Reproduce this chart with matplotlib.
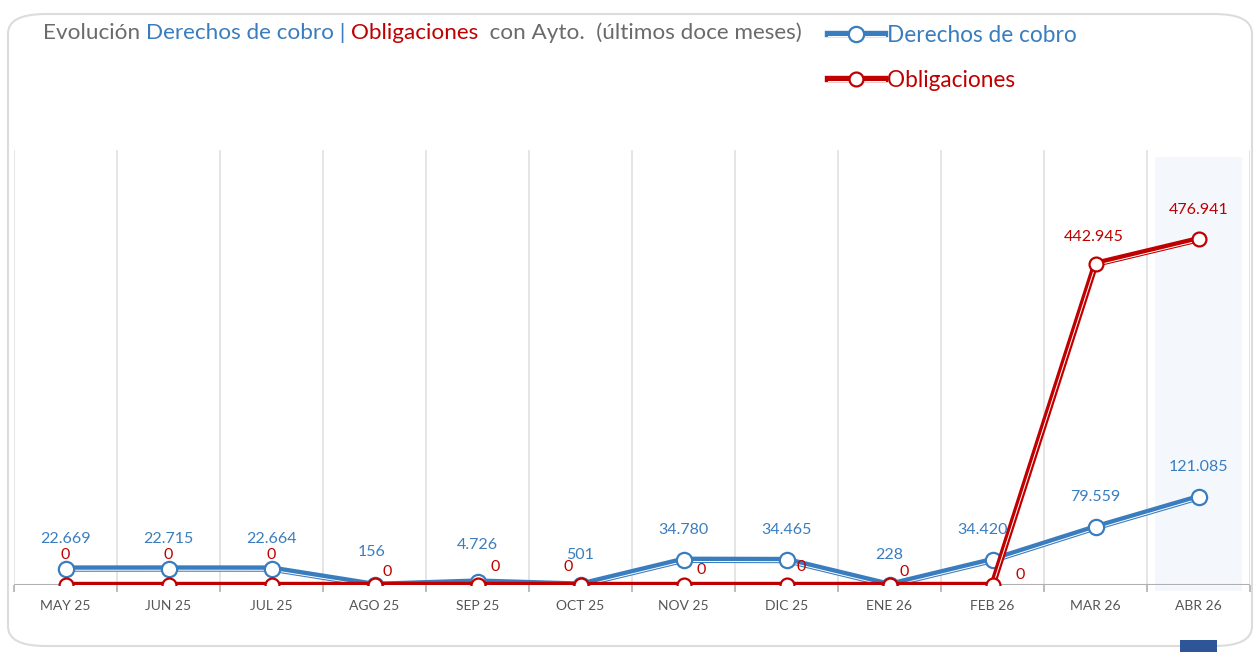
import matplotlib
matplotlib.use("Agg")
from matplotlib import pyplot as plt
from matplotlib import patheffects as pe
from matplotlib.patches import FancyBboxPatch, Rectangle

plt.rcParams['font.family'] = ['Lato', 'DejaVu Sans']

# DATA
months = ['MAY 25', 'JUN 25', 'JUL 25', 'AGO 25', 'SEP 25', 'OCT 25',
          'NOV 25', 'DIC 25', 'ENE 26', 'FEB 26', 'MAR 26', 'ABR 26']
derechos = [22669, 22715, 22664, 156, 4726, 501, 34780, 34465, 228, 34420, 79559, 121085]
obligaciones = [0, 0, 0, 0, 0, 0, 0, 0, 0, 0, 442945, 476941]

# label offsets in pixels (dx, dy)
off_der = [(0, 30), (0, 30), (0, 30), (-3, 33), (0, 37), (0, 30),
           (0, 30), (0, 30), (0, 30), (-10, 30), (0, 30), (0, 30)]
off_obl = [(0, 30), (0, 30), (0, 30), (13, 13), (18, 18), (-12, 18),
           (18, 15), (15, 18), (15, 13), (28, 10), (-2, 27), (0, 29)]

BLUE = '#3a7dbf'
RED = '#c00000'
GRAY = '#6b6b6b'

W, H = 1256, 652
fig = plt.figure(figsize=(W / 100, H / 100), dpi=100)

# card background
card = FancyBboxPatch((8 / W, 6 / H), 1244 / W, 632 / H,
                      boxstyle='round,pad=0,rounding_size=0.03',
                      transform=fig.transFigure, facecolor='white',
                      edgecolor='#dcdcdc', linewidth=1.5, zorder=-5)
fig.patches.append(card)
fig.patches.append(Rectangle((1180 / W, 0), 37 / W, 12 / H, transform=fig.transFigure,
                             facecolor='#2e5597', edgecolor='none', zorder=-4))

ax = fig.add_axes([14 / W, 67 / H, 1236 / W, 435 / H])
ax.set_xlim(-0.5, 11.5)
ax.set_ylim(0, 600000)
ax.patch.set_alpha(0)
for s in ax.spines.values():
    s.set_visible(False)
ax.axhline(0, color='#b0b0b0', lw=1.5, zorder=1)

x = list(range(len(months)))
for b in range(len(months) + 1):
    ax.axvline(b - 0.5, color='#e0e0e0', lw=1.2, zorder=0)

ax.add_patch(Rectangle((10.58, -8000), 0.84, 598000, facecolor='#f4f8fc',
                       edgecolor='none', zorder=0, clip_on=False))

ax.set_xticks([b - 0.5 for b in range(len(months) + 1)], minor=False)
ax.set_xticklabels([])
ax.tick_params(axis='x', which='major', length=5, color='#b0b0b0', width=1.2)
ax.set_xticks(x, minor=True)
ax.set_xticklabels(months, minor=True)
ax.tick_params(axis='x', which='minor', length=0, labelsize=10, labelcolor='#555555', pad=11)
ax.set_yticks([])


def series(vals, color, ms, z):
    line, = ax.plot(x, vals, color=color, lw=0, zorder=z,
                    path_effects=[pe.Stroke(linewidth=4.6, foreground=color),
                                  pe.Stroke(linewidth=0.7, foreground='white', offset=(0, -1.2))])
    mk, = ax.plot(x, vals, ls='none', marker='o', ms=ms, mfc='white', mec=color,
                  mew=1.6, zorder=z + 0.5)
    return line, mk


h_der = series(derechos, BLUE, 11, 3)
h_obl = series(obligaciones, RED, 10, 4)


def fmt(v):
    return f'{v:,}'.replace(',', '.')


for i in x:
    ax.annotate(fmt(derechos[i]), (i, derechos[i]), xytext=off_der[i], textcoords='offset pixels',
                ha='center', va='center', color=BLUE, fontsize=11.5, zorder=6)
    ax.annotate(fmt(obligaciones[i]), (i, obligaciones[i]), xytext=off_obl[i], textcoords='offset pixels',
                ha='center', va='center', color=RED, fontsize=11.5, zorder=6)

# title in several colours
parts = [('Evolución ', GRAY), ('Derechos de cobro', BLUE), (' | ', BLUE),
         ('Obligaciones', RED), ('  con Ayto.  (últimos doce meses)', GRAY)]
fig.canvas.draw()
r = fig.canvas.get_renderer()
px = 43
for txt, col in parts:
    t = fig.text(px / W, 1 - 33 / H, txt, color=col, fontsize=16.2, va='center', ha='left')
    bb = t.get_window_extent(r)
    px += bb.width

leg = fig.legend([h_der, h_obl], ['Derechos de cobro', 'Obligaciones'],
                 loc='upper left', bbox_to_anchor=(828 / W, 1 - 25 / H), frameon=False,
                 fontsize=16.3, handlelength=2.5, handletextpad=0.1, labelspacing=1.05,
                 borderpad=0, borderaxespad=0)
for t, c in zip(leg.get_texts(), [BLUE, RED]):
    t.set_color(c)

fig.savefig('out.png', dpi=100)
